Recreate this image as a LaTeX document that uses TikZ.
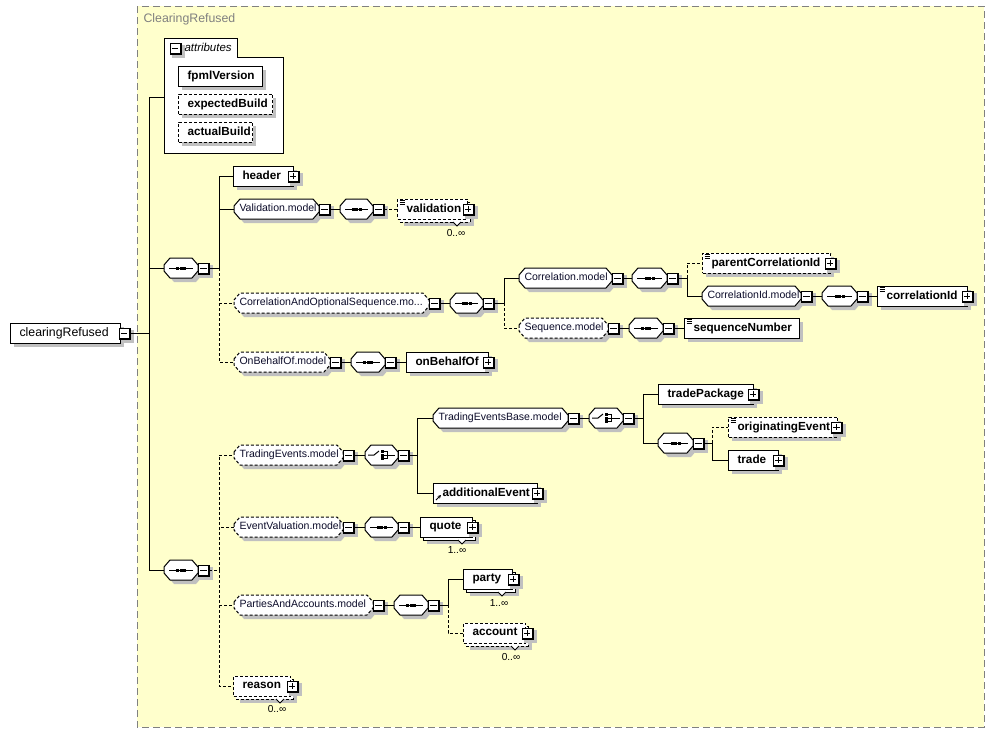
\documentclass[tikz,border=0pt]{standalone}
\usepackage{fontspec}
\setmainfont{Liberation Sans}
\usetikzlibrary{arrows.meta}
\definecolor{bgyellow}{HTML}{FFFFCC}
\definecolor{shadowc}{HTML}{C0C0C0}
\definecolor{framegray}{HTML}{808080}
\definecolor{modelc}{HTML}{0C0C2A}
\newlength\px \setlength\px{0.75pt}
\newcommand\efont{\fontsize{8.8pt}{10pt}\selectfont\bfseries}
\newcommand\mfont{\fontsize{7.9pt}{9pt}\selectfont\color{modelc}}
\newcommand\rfont{\fontsize{9.25pt}{11pt}\selectfont}
\newcommand\lfont{\fontsize{7.6pt}{9pt}\selectfont}
\newcommand\estrut{\rule[-2.5\px]{0pt}{10.5\px}}
\newcommand\mstrut{\rule[-2.3\px]{0pt}{9.7\px}}
\newcommand\rstrut{\rule[-2.5\px]{0pt}{11.3\px}}
\tikzset{
  ebox/.style={draw, fill=white, anchor=west, inner sep=0pt, minimum height=15pt},
  otext/.style={anchor=west, inner sep=0pt, minimum height=15pt},
  btnbox/.style={draw, fill=white, inner sep=0pt, minimum size=7.5pt},
  opt/.style={dash pattern=on 2.25pt off 1.5pt},
  mult/.style={inner sep=0pt, font=\lfont},
}
% element box: name, x0, yc, width, text, style
\newcommand\elem[6]{%
  \fill[shadowc] (#2+4,#3-6) rectangle (#2+#4+4,#3+14);
  \node[ebox,#6] (#1) at (#2,#3) {\makebox[#4\px][l]{\hspace*{9\px}\efont\estrut #5}};
}
% stacked (multiple) element box
\newcommand\elemm[6]{%
  \fill[shadowc] (#2+7,#3-3) rectangle (#2+#4+7,#3+17);
  \filldraw[fill=white,#6] (#2+3,#3-7) rectangle (#2+#4+3,#3+13);
  \node[ebox,#6] (#1) at (#2,#3) {\makebox[#4\px][l]{\hspace*{9\px}\efont\estrut #5}};
  \filldraw[fill=white,line width=0.6pt] (#2+#4-14,#3+13) -- (#2+#4-10,#3+17) -- (#2+#4-6,#3+13);
}
% octagon model group: name, x0, yc, width, text, style
\newcommand\octg[6]{%
  \fill[shadowc] (#2+4,#3+1) -- (#2+10,#3-6) -- (#2+#4-2,#3-6) -- (#2+#4+4,#3+1) -- (#2+#4+4,#3+7) -- (#2+#4-2,#3+14) -- (#2+10,#3+14) -- (#2+4,#3+7) -- cycle;
  \filldraw[fill=white,#6] (#2,#3-3) -- (#2+6,#3-10) -- (#2+#4-6,#3-10) -- (#2+#4,#3-3) -- (#2+#4,#3+3) -- (#2+#4-6,#3+10) -- (#2+6,#3+10) -- (#2,#3+3) -- cycle;
  \node[otext] (#1) at (#2,#3) {\makebox[#4\px][l]{\hspace*{5\px}\mfont\mstrut #5}};
}
% sequence compositor
\newcommand\seqo[4]{%
  \octg{#1}{#2}{#3}{#4}{}{}%
  \draw (#2+5,#3) -- (#2+#4-5,#3);
  \fill (#2+#4/2-5,#3-1.5) rectangle (#2+#4/2-2,#3+1.5);
  \fill (#2+#4/2-1.5,#3-1.5) rectangle (#2+#4/2+1.5,#3+1.5);
  \fill (#2+#4/2+2,#3-1.5) rectangle (#2+#4/2+5,#3+1.5);
}
% choice compositor
\newcommand\choiceo[4]{%
  \octg{#1}{#2}{#3}{#4}{}{}%
  \draw (#2+3,#3) -- (#2+9,#3) -- (#2+14,#3-4);
  \fill (#2+15.5,#3-5) rectangle (#2+18.5,#3-2);
  \fill (#2+15.5,#3-1.5) rectangle (#2+18.5,#3+1.5);
  \fill (#2+15.5,#3+2) rectangle (#2+18.5,#3+5);
  \draw (#2+19,#3-3.5) -- (#2+22,#3-3.5) -- (#2+22,#3+3.5) -- (#2+19,#3+3.5);
  \draw (#2+19,#3) -- (#2+#4-3,#3);
}
% expand/collapse button: name, xc, yc, p/m
\newcommand\btn[4]{%
  \fill[shadowc] (#2-3.5,#3-3.5) rectangle (#2+9.5,#3+9.5);
  \fill (#2-5.5,#3-5.5) rectangle (#2+6.5,#3+6.5);
  \node[btnbox] (#1) at (#2,#3) {};
  \draw (#2-3.2,#3) -- (#2+3.2,#3);
  \if p#4 \draw (#2,#3-3.2) -- (#2,#3+3.2);\fi
}
% simple content icon
\newcommand\simpleicon[2]{%
  \foreach \k in {1.6,3.6,5.6} \draw[line width=0.6pt] (#1+2.5,#2-10+\k) -- (#1+7.5,#2-10+\k);
}
\begin{document}
\begin{tikzpicture}[x=0.75pt, y=-0.75pt, line width=0.75pt]
\useasboundingbox (0,0) rectangle (996,733);
\filldraw[draw=framegray, fill=bgyellow, dash pattern=on 5.25pt off 3pt] (137,6) rectangle (984,727);
\node[anchor=west, inner sep=0pt, text=framegray] (title) at (143,19) {\rfont\rstrut ClearingRefused};

% attributes
\filldraw[fill=white] (164,153) -- (164,38) -- (237,38) -- (237,57) -- (283,57) -- (283,153) -- cycle;
\btn{attrb}{175}{48}{m}
\node[anchor=west, inner sep=0pt] (attrlbl) at (184,48) {\fontsize{8.6pt}{10pt}\selectfont\itshape\rstrut attributes};
\elem{fpml}{178}{76}{84}{fpmlVersion}{}
\elem{expb}{178}{104}{94}{expectedBuild}{opt}
\elem{actb}{178}{132}{74}{actualBuild}{opt}
\coordinate (attrin) at (164,97);

% root
\fill[shadowc] (14,327) rectangle (124,347);
\node[ebox] (root) at (10,333) {\makebox[110\px][l]{\hspace*{9\px}\rfont\rstrut clearingRefused}};
\btn{rootb}{124}{333}{m}
\coordinate (trunk) at (149,333);

% first sequence
\seqo{seq1}{164}{268}{34} \btn{seq1b}{203.5}{268}{m}
\coordinate (bus1) at (219,268);
\elem{header}{233}{176}{60}{header}{} \btn{headerb}{293}{176}{p}

\octg{valm}{234}{209}{85}{Validation.model}{} \btn{valmb}{324.5}{209}{m}
\seqo{valseq}{340}{209}{33} \btn{valseqb}{378.5}{209}{m}
\elemm{validation}{397}{209}{70}{validation}{opt} \simpleicon{397}{209} \btn{validationb}{468}{209}{p}
\node[mult] (validationm) at (456,233) {0..∞};

\octg{corrm}{234}{303}{195}{CorrelationAndOptionalSequence.mo...}{opt} \btn{corrmb}{434.5}{303}{m}
\seqo{corrseq}{450}{303}{33} \btn{corrseqb}{488.5}{303}{m}
\coordinate (bus2) at (504,303);
\octg{corrmod}{519}{278}{93}{Correlation.model}{} \btn{corrmodb}{617.5}{278}{m}
\seqo{cmseq}{632}{278}{35} \btn{cmseqb}{672.5}{278}{m}
\coordinate (bus3) at (687,278);
\elem{pcid}{702}{263}{128}{parentCorrelationId}{opt} \simpleicon{702}{263} \btn{pcidb}{830}{263}{p}
\octg{cidm}{702}{296}{99}{CorrelationId.model}{} \btn{cidmb}{806.5}{296}{m}
\seqo{cidseq}{822}{296}{35} \btn{cidseqb}{862.5}{296}{m}
\elem{cid}{877}{296}{90}{correlationId}{} \simpleicon{877}{296} \btn{cidb}{967}{296}{p}
\octg{seqm}{519}{328}{89}{Sequence.model}{opt} \btn{seqmb}{613.5}{328}{m}
\seqo{smseq}{629}{328}{34} \btn{smseqb}{668.5}{328}{m}
\elem{seqnum}{684}{328}{115}{sequenceNumber}{} \simpleicon{684}{328}

\octg{obom}{234}{362}{96}{OnBehalfOf.model}{opt} \btn{obomb}{335.5}{362}{m}
\seqo{oboseq}{351}{362}{34} \btn{oboseqb}{390.5}{362}{m}
\elem{obo}{406}{362}{82}{onBehalfOf}{} \btn{obob}{488}{362}{p}

% second sequence
\seqo{seq2}{164}{570}{34} \btn{seq2b}{203.5}{570}{m}
\coordinate (bus4) at (219,570);
\octg{tem}{234}{455}{109}{TradingEvents.model}{opt} \btn{temb}{348.5}{455}{m}
\choiceo{tech}{365}{455}{33} \btn{techb}{403.5}{455}{m}
\coordinate (bus5) at (417,455);
\octg{tebm}{433}{418}{135}{TradingEventsBase.model}{} \btn{tebmb}{573.5}{418}{m}
\choiceo{tebch}{589}{418}{34} \btn{tebchb}{628.5}{418}{m}
\coordinate (bus6) at (643,418);
\elem{tpkg}{658}{394}{95}{tradePackage}{} \btn{tpkgb}{753}{394}{p}
\seqo{tpseq}{658}{443}{35} \btn{tpseqb}{698.5}{443}{m}
\coordinate (bus7) at (712,443);
\elem{orig}{728}{427}{109}{originatingEvent}{opt} \simpleicon{728}{427} \btn{origb}{836.5}{427}{p}
\elem{trade}{728}{460}{50}{trade}{} \btn{tradeb}{778.5}{460}{p}
\elem{addev}{433}{493}{104}{additionalEvent}{}
\draw[-{Stealth[length=2.6pt,width=2.6pt]}, line width=0.6pt] (436,500) -- (441,495);
\btn{addevb}{537}{493}{p}

\octg{evm}{234}{527}{109}{EventValuation.model}{opt} \btn{evmb}{348.5}{527}{m}
\seqo{evseq}{365}{527}{33} \btn{evseqb}{403.5}{527}{m}
\elemm{quote}{420}{527}{52}{quote}{} \btn{quoteb}{472.5}{527}{p}
\node[mult] (quotem) at (457,550) {1..∞};

\octg{pam}{234}{605}{139}{PartiesAndAccounts.model}{opt} \btn{pamb}{378.5}{605}{m}
\seqo{paseq}{394}{605}{34} \btn{paseqb}{433.5}{605}{m}
\coordinate (bus8) at (448,605);
\elemm{party}{463}{579}{49}{party}{} \btn{partyb}{513}{579}{p}
\node[mult] (partym) at (499,603) {1..∞};
\elemm{account}{463}{633}{62}{account}{opt} \btn{accountb}{527}{633}{p}
\node[mult] (accountm) at (511,657) {0..∞};

\elemm{reason}{233}{686}{57}{reason}{opt} \btn{reasonb}{292}{686}{p}
\node[mult] (reasonm) at (277,709) {0..∞};

% connectors
\draw (rootb.east) -- (trunk);
\draw (trunk) |- (attrin);
\draw (trunk) |- (seq1.west);
\draw (trunk) |- (seq2.west);
\draw (seq1b.east) -- (bus1);
\draw (bus1) |- (header.west);
\draw (bus1) |- (valm.west);
\draw[opt] (bus1) |- (corrm.west);
\draw[opt] (bus1) |- (obom.west);
\draw (valmb.east) -- (valseq.west);
\draw[opt] (valseqb.east) -- (validation.west);
\draw (corrmb.east) -- (corrseq.west);
\draw (corrseqb.east) -- (bus2);
\draw (bus2) |- (corrmod.west);
\draw[opt] (bus2) |- (seqm.west);
\draw (corrmodb.east) -- (cmseq.west);
\draw (cmseqb.east) -- (bus3);
\draw[opt] (bus3) |- (pcid.west);
\draw (bus3) |- (cidm.west);
\draw (cidmb.east) -- (cidseq.west);
\draw (cidseqb.east) -- (cid.west);
\draw (seqmb.east) -- (smseq.west);
\draw (smseqb.east) -- (seqnum.west);
\draw (obomb.east) -- (oboseq.west);
\draw (oboseqb.east) -- (obo.west);
\draw[opt] (seq2b.east) -- (bus4);
\draw[opt] (bus4) |- (tem.west);
\draw[opt] (bus4) |- (evm.west);
\draw[opt] (bus4) |- (pam.west);
\draw[opt] (bus4) |- (reason.west);
\draw (temb.east) -- (tech.west);
\draw (techb.east) -- (bus5);
\draw (bus5) |- (tebm.west);
\draw (bus5) |- (addev.west);
\draw (tebmb.east) -- (tebch.west);
\draw (tebchb.east) -- (bus6);
\draw (bus6) |- (tpkg.west);
\draw (bus6) |- (tpseq.west);
\draw (tpseqb.east) -- (bus7);
\draw[opt] (bus7) |- (orig.west);
\draw (bus7) |- (trade.west);
\draw (evmb.east) -- (evseq.west);
\draw (evseqb.east) -- (quote.west);
\draw (pamb.east) -- (paseq.west);
\draw (paseqb.east) -- (bus8);
\draw (bus8) |- (party.west);
\draw[opt] (bus8) |- (account.west);
\end{tikzpicture}
\end{document}
